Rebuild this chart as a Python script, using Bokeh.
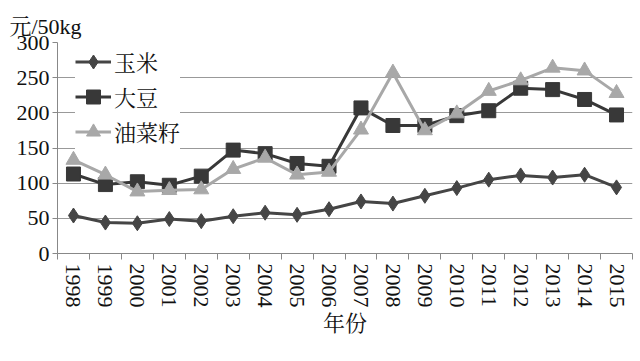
from bokeh.plotting import figure
from bokeh.models import FixedTicker, Range1d, Legend, LegendItem
from bokeh.embed import file_html
from bokeh.resources import INLINE

years = ["1998", "1999", "2000", "2001", "2002", "2003", "2004", "2005", "2006",
         "2007", "2008", "2009", "2010", "2011", "2012", "2013", "2014", "2015"]
corn = [54, 44, 43, 49, 46, 53, 58, 55, 63, 74, 71, 82, 93, 105, 111, 108, 112, 94]
soybean = [113, 98, 102, 97, 110, 147, 142, 128, 124, 207, 182, 182, 196, 203, 235, 233, 219, 197]
rapeseed = [133, 112, 88, 90, 91, 120, 136, 112, 116, 176, 257, 175, 199, 231, 246, 264, 260, 228]
y_ticks = [0, 50, 100, 150, 200, 250, 300]
series_names = ["玉米", "大豆", "油菜籽"]

xs = list(range(len(years)))
SERIF = "'Liberation Serif', 'Noto Serif CJK SC', 'Noto Sans CJK SC', serif"

p = figure(width=640, height=361, output_backend="svg", toolbar_location=None,
           x_range=Range1d(-0.5, len(years) - 0.5), y_range=Range1d(0, 300),
           min_border_left=57, min_border_right=8, min_border_top=42, min_border_bottom=108)
p.outline_line_color = None
p.background_fill_color = "white"
p.border_fill_color = "white"

p.title.text = "元/50kg"
p.title.text_font = SERIF
p.title.text_font_size = "22px"
p.title.text_font_style = "normal"
p.title.align = "left"
p.title.offset = -48
p.title.standoff = 8
p.title.text_color = "#111111"

# x axis
p.xaxis.ticker = FixedTicker(ticks=xs, minor_ticks=[i - 0.5 for i in range(len(years) + 1)])
p.xaxis.major_label_overrides = {i: y for i, y in enumerate(years)}
p.xaxis.major_label_orientation = "vertical"
p.xaxis.major_tick_out = 0
p.xaxis.major_tick_in = 0
p.xaxis.minor_tick_out = 6
p.xaxis.minor_tick_in = 0
p.xaxis.minor_tick_line_color = "#888888"
p.xaxis.axis_line_color = "#888888"
p.xaxis.major_label_text_font = SERIF
p.xaxis.major_label_text_font_size = "22px"
p.xaxis.major_label_text_color = "#111111"
p.xaxis.major_label_standoff = 4
p.xaxis.axis_label = "年份"
p.xaxis.axis_label_text_font = SERIF
p.xaxis.axis_label_text_font_size = "22px"
p.xaxis.axis_label_text_font_style = "normal"
p.xaxis.axis_label_text_color = "#111111"
p.xaxis.axis_label_standoff = 0

# y axis
p.yaxis.ticker = FixedTicker(ticks=y_ticks)
p.yaxis.major_tick_out = 5
p.yaxis.major_tick_in = 0
p.yaxis.minor_tick_line_color = None
p.yaxis.axis_line_color = "#888888"
p.yaxis.major_tick_line_color = "#888888"
p.yaxis.major_label_text_font = SERIF
p.yaxis.major_label_text_font_size = "22px"
p.yaxis.major_label_text_color = "#111111"
p.yaxis.major_label_standoff = 3

p.xgrid.grid_line_color = None
p.ygrid.ticker = FixedTicker(ticks=y_ticks)
p.ygrid.grid_line_color = "#999999"
p.ygrid.grid_line_width = 1

c_corn = "#454545"
c_soy = "#383838"
c_rape = "#a8a8a8"

l1 = p.line(xs, corn, line_color=c_corn, line_width=3)
m1 = p.scatter(xs, corn, marker="diamond", size=15, fill_color=c_corn, line_color=c_corn)
l2 = p.line(xs, soybean, line_color=c_soy, line_width=3)
m2 = p.scatter(xs, soybean, marker="square", size=14, fill_color=c_soy, line_color=c_soy)
l3 = p.line(xs, rapeseed, line_color=c_rape, line_width=3)
m3 = p.scatter(xs, rapeseed, marker="triangle", size=15, fill_color=c_rape, line_color=c_rape)

legend = Legend(items=[
    LegendItem(label=series_names[0], renderers=[l1, m1]),
    LegendItem(label=series_names[1], renderers=[l2, m2]),
    LegendItem(label=series_names[2], renderers=[l3, m3]),
], location=(18, 104))
legend.border_line_color = None
legend.background_fill_color = "white"
legend.background_fill_alpha = 1.0
legend.padding = 1
legend.margin = 0
legend.spacing = 0
legend.label_height = 35
legend.glyph_height = 35
legend.glyph_width = 36
legend.label_standoff = 3
legend.label_text_font = SERIF
legend.label_text_font_size = "22px"
legend.label_text_color = "#111111"
p.add_layout(legend, "center")

open("out.html", "w").write(file_html(p, INLINE))
